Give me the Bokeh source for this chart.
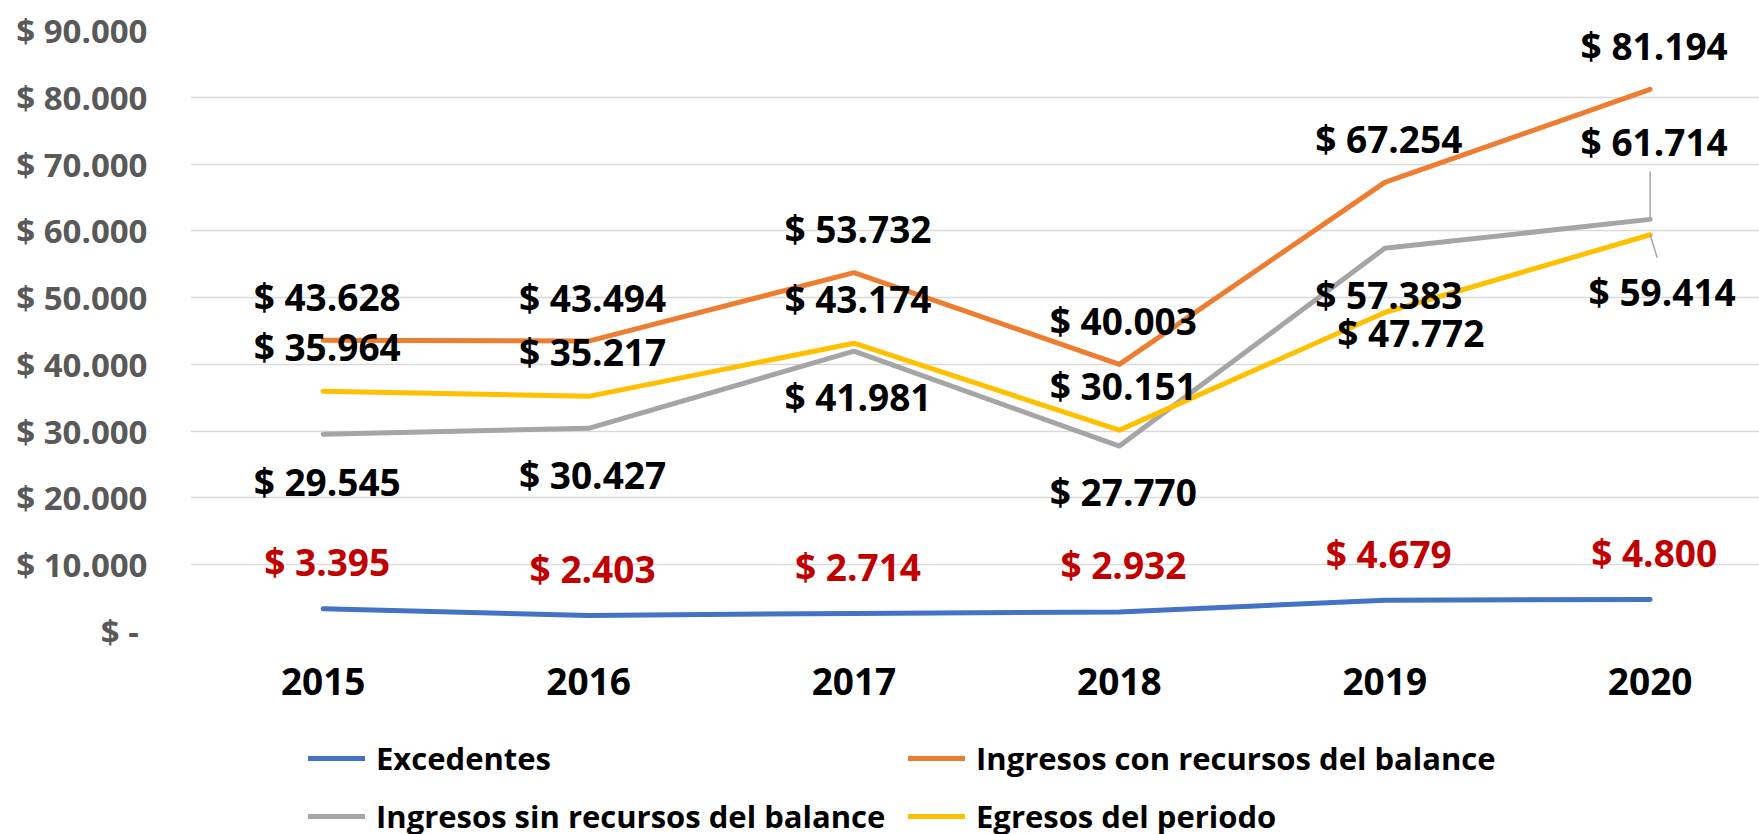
from bokeh.plotting import figure
from bokeh.layouts import column
from bokeh.models import (ColumnDataSource, Range1d, FixedTicker, Legend, LegendItem)
from bokeh.core.properties import value
from bokeh.embed import file_html
from bokeh.resources import INLINE

years = ["2015", "2016", "2017", "2018", "2019", "2020"]
excedentes = [3395, 2403, 2714, 2932, 4679, 4800]
ingresos_con = [43628, 43494, 53732, 40003, 67254, 81194]
ingresos_sin = [29545, 30427, 41981, 27770, 57383, 61714]
egresos = [35964, 35217, 43174, 30151, 47772, 59414]
y_ticks = [0, 10000, 20000, 30000, 40000, 50000, 60000, 70000, 80000, 90000]
y_tick_labels = ["$ -\u00a0", "$ 10.000", "$ 20.000", "$ 30.000", "$ 40.000",
                 "$ 50.000", "$ 60.000", "$ 70.000", "$ 80.000", "$ 90.000"]
series_names = ["Excedentes", "Ingresos con recursos del balance",
                "Ingresos sin recursos del balance", "Egresos del periodo"]

# styles
colors = ["#4472C4", "#ED7D31", "#A5A5A5", "#FFC000"]
label_colors = ["#C00000", "#000000", "#000000", "#000000"]
# label pixel offsets (dx, dy) per series per point
label_dx = [[4] * 6, [4] * 6, [4, 4, 4, 4, 4, 4], [4, 4, 4, 4, 26, 12]]
label_dy = [[-47] * 6, [-44] * 6, [47, 46, 45, 45, 46, -78], [-45, -45, -45, -45, 20, 57]]

FONT = "Open Sans"
xs = list(range(len(years)))

W = 1759
H_MAIN = 730
H_LEG = 104

p = figure(width=W, height=H_MAIN, x_range=Range1d(-0.5, 5.412), y_range=Range1d(0, 90000),
           output_backend="svg", toolbar_location=None,
           min_border_left=190, min_border_right=0, min_border_top=30,
           min_border_bottom=H_MAIN - 631)
p.outline_line_color = None
p.background_fill_color = "white"

p.xgrid.visible = False
p.ygrid.grid_line_color = "#D9D9D9"
p.ygrid.grid_line_width = 1.3
p.ygrid.ticker = FixedTicker(ticks=y_ticks)

p.yaxis.ticker = FixedTicker(ticks=y_ticks)
p.yaxis.major_label_overrides = {t: l for t, l in zip(y_ticks, y_tick_labels)}
p.yaxis.axis_line_color = None
p.yaxis.major_tick_line_color = None
p.yaxis.minor_tick_line_color = None
p.yaxis.major_tick_out = 0
p.yaxis.major_label_standoff = 43
p.yaxis.major_label_text_font = FONT
p.yaxis.major_label_text_font_style = "bold"
p.yaxis.major_label_text_font_size = "33px"
p.yaxis.major_label_text_color = "#595959"

p.xaxis.ticker = FixedTicker(ticks=xs)
p.xaxis.major_label_overrides = {i: y for i, y in enumerate(years)}
p.xaxis.axis_line_color = None
p.xaxis.major_tick_line_color = None
p.xaxis.minor_tick_line_color = None
p.xaxis.major_tick_out = 0
p.xaxis.major_label_standoff = 36
p.xaxis.major_label_text_font = FONT
p.xaxis.major_label_text_font_style = "bold"
p.xaxis.major_label_text_font_size = "37px"
p.xaxis.major_label_text_color = "#000000"

all_series = [excedentes, ingresos_con, ingresos_sin, egresos]
for vals, c in zip(all_series, colors):
    p.line(xs, vals, line_color=c, line_width=5, line_cap="round", line_join="round")

# leader lines (gray 2020 up to its label, yellow 2020 down to its label)
PX = 90000 / 601.0  # data units per pixel
XPX = 1.0 / 265.4
p.segment(x0=[xs[5]], y0=[ingresos_sin[5]], x1=[xs[5]], y1=[ingresos_sin[5] + 48 * PX],
          line_color="#A5A5A5", line_width=1.5)
p.segment(x0=[xs[5]], y0=[egresos[5]], x1=[xs[5] + 7 * XPX], y1=[egresos[5] - 23 * PX],
          line_color="#A5A5A5", line_width=1.5)

for vals, lc, dx, dy in zip(all_series, label_colors, label_dx, label_dy):
    src = ColumnDataSource(dict(
        x=xs, y=vals,
        t=["$ " + f"{v:,}".replace(",", ".") for v in vals],
        dx=dx, dy=dy))
    p.text(x="x", y="y", text="t", x_offset="dx", y_offset="dy", source=src,
           text_font=value(FONT), text_font_style="bold", text_font_size="37px",
           text_align="center", text_baseline="middle", text_color=lc)

# legend panel (its frame is aligned with the main frame by the column layout)
lp = figure(width=W, height=H_LEG, x_range=Range1d(0, 1), y_range=Range1d(0, 1),
            output_backend="svg", toolbar_location=None, x_axis_type=None, y_axis_type=None,
            min_border_left=0, min_border_right=0, min_border_top=0, min_border_bottom=0)
lp.outline_line_color = None
lp.xgrid.visible = False
lp.ygrid.visible = False
leg_renderers = [lp.line(x=[0], y=[0], line_color=c, line_width=5, line_cap="round")
                 for c in colors]
legend = Legend(items=[LegendItem(label=n, renderers=[r]) for n, r in zip(series_names, leg_renderers)],
                orientation="horizontal", ncols=2, location=(118, -3))
legend.label_text_font = FONT
legend.label_text_font_style = "bold"
legend.label_text_font_size = "31px"
legend.label_text_color = "#000000"
legend.label_width = 516
legend.glyph_width = 57
legend.glyph_height = 20
legend.label_standoff = 11
legend.spacing = 16
legend.padding = 0
legend.margin = 0
legend.border_line_color = None
legend.background_fill_alpha = 0
lp.add_layout(legend, "center")

layout = column(p, lp, spacing=0)
open("out.html", "w").write(file_html(layout, INLINE))
